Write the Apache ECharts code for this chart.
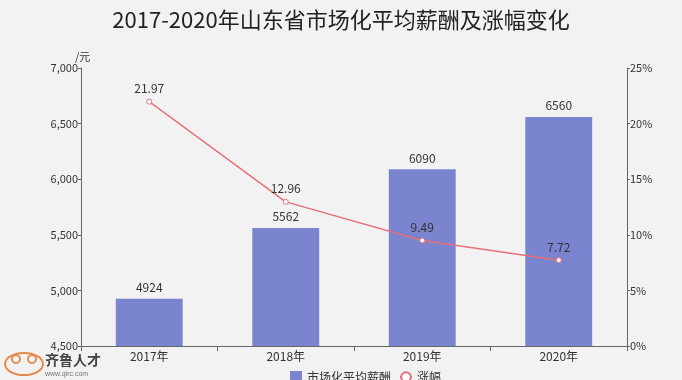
<!DOCTYPE html>
<html><head><meta charset="utf-8">
<script src="https://cdn.jsdelivr.net/npm/echarts@6/dist/echarts.min.js"></script>
<style>html,body{margin:0;padding:0;background:#f2f2f2}#c{width:682px;height:380px}</style>
</head><body><div id="c"></div>
<script>
const title = '2017-2020年山东省市场化平均薪酬及涨幅变化';
const categories = ['2017年','2018年','2019年','2020年'];
const salary = [4924, 5562, 6090, 6560];
const growth = [21.97, 12.96, 9.49, 7.72];
const salaryName = '市场化平均薪酬';
const growthName = '涨幅';
const font = '"Noto Sans CJK SC","Noto Sans",sans-serif';
const chart = echarts.init(document.getElementById('c'));
chart.setOption({
  backgroundColor: '#f2f2f2',
  textStyle: {fontFamily: font},
  title: {text: title, left: 'center', top: 4, textStyle: {fontSize: 22, fontWeight: 'normal', color: '#222', fontFamily: font}},
  grid: {left: 81, right: 55, top: 68, bottom: 34},
  legend: {bottom: -8, left: 285, itemWidth: 12, itemHeight: 12, itemGap: 8, textStyle: {fontSize: 12, color: '#333'},
    data: [{name: salaryName, icon: 'rect'}, {name: growthName}]},
  graphic: [
    {type: 'ellipse', shape: {cx: 24, cy: 364, rx: 19, ry: 11}, style: {fill: 'none', stroke: '#e58a4e', lineWidth: 2}},
    {type: 'circle', shape: {cx: 16, cy: 359, r: 4}, style: {fill: 'none', stroke: '#e58a4e', lineWidth: 2}},
    {type: 'circle', shape: {cx: 32, cy: 359, r: 4}, style: {fill: 'none', stroke: '#e58a4e', lineWidth: 2}},
    {type: 'text', left: 45, top: 353, style: {text: '齐鲁人才', font: 'bold 14px ' + font, fill: '#444'}},
    {type: 'text', left: 45, top: 371, style: {text: 'www.qlrc.com', font: '7px sans-serif', fill: '#777'}}
  ],
  xAxis: {type: 'category', data: categories,
    axisLine: {lineStyle: {color: '#666'}}, axisTick: {show: true, lineStyle: {color: '#666'}},
    axisLabel: {color: '#333', fontSize: 12, margin: 4}},
  yAxis: [
    {type: 'value', min: 4500, max: 7000, interval: 500, name: '/元', nameGap: 4,
     nameTextStyle: {color: '#333', fontSize: 11, align: 'left', padding: [0,0,0,-6]},
     axisLine: {show: true, lineStyle: {color: '#666'}}, axisTick: {show: true, length: 3, lineStyle: {color: '#666'}},
     splitLine: {show: false},
     axisLabel: {color: '#333', fontSize: 11, margin: 3, formatter: v => v.toLocaleString('en-US')}},
    {type: 'value', min: 0, max: 25, interval: 5, position: 'right',
     axisLine: {show: true, lineStyle: {color: '#666'}}, axisTick: {show: true, length: 3, lineStyle: {color: '#666'}},
     splitLine: {show: false},
     axisLabel: {color: '#333', fontSize: 11, margin: 3, formatter: '{value}%'}}
  ],
  series: [
    {name: salaryName, type: 'bar', data: salary, barWidth: '49%', itemStyle: {color: '#7a84cf'},
     label: {show: true, position: 'top', color: '#333', fontSize: 12, distance: 5}},
    {name: growthName, type: 'line', yAxisIndex: 1, data: growth, symbol: 'circle', symbolSize: 5,
     itemStyle: {color: '#fff', borderColor: '#e8707a', borderWidth: 1}, lineStyle: {color: '#e8707a', width: 1.5},
     label: {show: true, position: 'top', color: '#333', fontSize: 12, distance: 4}}
  ]
});
</script></body></html>
